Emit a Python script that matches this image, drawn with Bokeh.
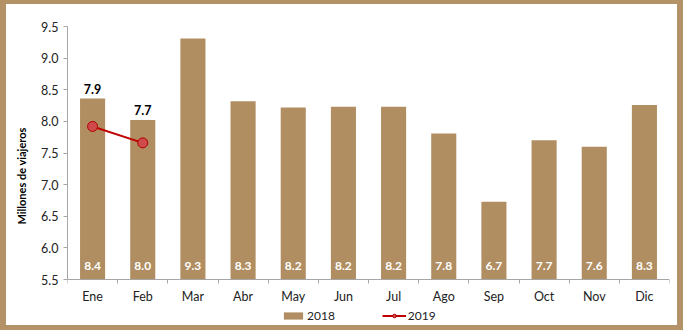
from bokeh.plotting import figure
from bokeh.models import ColumnDataSource, FixedTicker, PrintfTickFormatter, Legend, LegendItem, Range1d
from bokeh.core.properties import value
from bokeh.embed import file_html
from bokeh.resources import INLINE

months = ["Ene", "Feb", "Mar", "Abr", "May", "Jun", "Jul", "Ago", "Sep", "Oct", "Nov", "Dic"]
v2018 = [8.36, 8.02, 9.31, 8.32, 8.22, 8.23, 8.23, 7.81, 6.73, 7.70, 7.60, 8.26]
lab2018 = ["8.4", "8.0", "9.3", "8.3", "8.2", "8.2", "8.2", "7.8", "6.7", "7.7", "7.6", "8.3"]
v2019 = [7.92, 7.66]
lab2019 = ["7.9", "7.7"]
yticks = [5.5, 6.0, 6.5, 7.0, 7.5, 8.0, 8.5, 9.0, 9.5]

TAN = "#B08E62"
FRAME = "#B39268"
FONT = "Lato"

Y0, Y1 = yticks[0], yticks[-1]
# extend the frame below the axis base so that the legend (inside the frame) is visible
PX_PER_UNIT = 253 / (Y1 - Y0)
Y_START = Y0 - 46 / PX_PER_UNIT

xs = [i + 0.5 for i in range(len(months))]
src18 = ColumnDataSource(dict(x=xs, top=v2018, lab=lab2018, ylab=[5.71] * len(months)))
src19 = ColumnDataSource(dict(x=xs[:len(v2019)], y=v2019, lab=lab2019, top18=v2018[:len(v2019)]))

p = figure(width=683, height=330, output_backend="svg", toolbar_location=None,
           x_range=Range1d(0, len(months)), y_range=Range1d(Y_START, Y1),
           min_border_left=61, min_border_right=20, min_border_top=22, min_border_bottom=9)
p.styles = {"border-left": f"6px solid {FRAME}", "border-right": f"6px solid {FRAME}",
            "border-top": f"4px solid {FRAME}", "border-bottom": f"5px solid {FRAME}",
            "box-sizing": "border-box"}
p.outline_line_color = None
p.xgrid.grid_line_color = None
p.ygrid.grid_line_color = None

bars = p.vbar(x="x", top="top", bottom=Y0, width=0.5, source=src18, fill_color=TAN, line_color=None)
p.text(x="x", y="ylab", text="lab", source=src18, text_color="white", text_font=value(FONT),
       text_font_style="bold", text_font_size="12px", text_align="center", text_baseline="middle")

line = p.line(x="x", y="y", source=src19, line_color="#C00000", line_width=2)
pts = p.scatter(x="x", y="y", source=src19, size=10, fill_color="#CF4A4A", line_color="#B00000", line_width=1)
p.text(x="x", y="top18", text="lab", source=src19, text_color="black", text_font=value(FONT),
       text_font_style="bold", text_font_size="12.5px", text_align="center", text_baseline="middle",
       y_offset=-10)

# axes
p.xaxis.fixed_location = Y0
p.xaxis.ticker = FixedTicker(ticks=xs, minor_ticks=list(range(len(months) + 1)))
p.xaxis.major_label_overrides = {x: m for x, m in zip(xs, months)}
p.xaxis.major_tick_out = 0
p.xaxis.major_tick_in = 0
p.xaxis.minor_tick_out = 4
p.xaxis.minor_tick_in = 0
p.xaxis.minor_tick_line_color = "#A6A6A6"
p.xaxis.axis_line_color = "#A6A6A6"
p.xaxis.major_label_text_font = FONT
p.xaxis.major_label_text_font_size = "12.5px"
p.xaxis.major_label_text_color = "#222222"
p.xaxis.major_label_standoff = 5

p.yaxis.bounds = (Y0, Y1)
p.yaxis.ticker = FixedTicker(ticks=yticks, minor_ticks=[])
p.yaxis.formatter = PrintfTickFormatter(format="%.1f")
p.yaxis.major_tick_out = 4
p.yaxis.major_tick_in = 0
p.yaxis.major_tick_line_color = "#A6A6A6"
p.yaxis.axis_line_color = "#A6A6A6"
p.yaxis.major_label_text_font = FONT
p.yaxis.major_label_text_font_size = "12.5px"
p.yaxis.major_label_text_color = "#222222"
p.yaxis.major_label_standoff = 5
p.yaxis.axis_label = "Millones de viajeros"
p.yaxis.axis_label_text_font = FONT
p.yaxis.axis_label_text_font_style = "bold"
p.yaxis.axis_label_text_font_size = "11px"
p.yaxis.axis_label_text_color = "black"
p.yaxis.axis_label_standoff = 10

legend = Legend(items=[LegendItem(label="2018", renderers=[bars]),
                       LegendItem(label="2019", renderers=[line, pts])],
                orientation="horizontal", location=(214, 2), padding=0, margin=0,
                spacing=47, label_standoff=2, glyph_width=24, glyph_height=9,
                label_text_font=FONT, label_text_font_size="12px", label_text_color="#222222",
                border_line_color=None, background_fill_alpha=0)
p.add_layout(legend, "center")

open("out.html", "w").write(file_html(p, INLINE))
